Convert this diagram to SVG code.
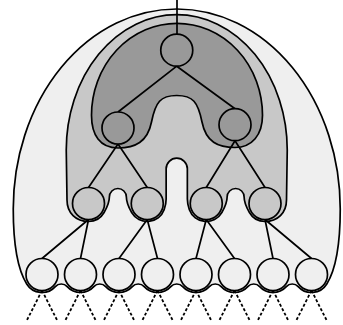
<svg xmlns="http://www.w3.org/2000/svg" width="343" height="325" viewBox="0 0 343 325">
<style>
.reg{stroke:#000;stroke-width:1.7;stroke-linejoin:round}
.r1{fill:#efefef}
.r2{fill:#c8c8c8}
.r3{fill:#999999}
.edge{stroke:#000;stroke-width:1.7;fill:none}
.dash{stroke:#000;stroke-width:1.8;fill:none;stroke-dasharray:3 2}
.node{stroke:#000;stroke-width:1.7}
</style>
<rect width="343" height="325" fill="#fff"/>
<g id="regions">
<path id="outer" class="reg r1" d="M13.25 209 A163.5 200 0 0 1 340.25 209 C340.25 250 334.7 271.25 326.8 284 A18 18 0 0 1 298.19 286.62 A8.01 8.01 0 0 0 286.31 286.62 A18 18 0 0 1 259.69 286.62 A8.01 8.01 0 0 0 247.81 286.62 A18 18 0 0 1 221.19 286.62 A8.01 8.01 0 0 0 209.31 286.62 A18 18 0 0 1 182.69 286.62 A8.01 8.01 0 0 0 170.81 286.62 A18 18 0 0 1 144.19 286.62 A8.01 8.01 0 0 0 132.31 286.62 A18 18 0 0 1 105.69 286.62 A8.01 8.01 0 0 0 93.81 286.62 A18 18 0 0 1 67.19 286.62 A8.01 8.01 0 0 0 55.31 286.62 A18 18 0 0 1 26.7 284 C18.8 271.25 13.25 250 13.25 209 Z"/>
<path id="middle" class="reg r2" d="M66.25 150 A110.5 135.3 0 0 1 287.25 150 L286.5 200 C286.5 213 277.5 221.5 265 221.5 A18 18 0 0 1 249.41 212.5 C246.5 207.5 244.125 203 244.125 197 A8.5 8.5 0 0 0 227.125 197 C227.125 203 224.75 207.5 221.84 212.5 A18 18 0 0 1 189.34 209.66 C188.2 206.5 187.35 203 187.35 199 L187.35 168.8 A10.6 10.6 0 0 0 166.15 168.8 L166.15 199 C166.15 203 165.3 206.5 164.16 209.66 A18 18 0 0 1 131.66 212.5 C128.75 207.5 126.375 203 126.375 197 A8.5 8.5 0 0 0 109.375 197 C109.375 203 107 207.5 104.09 212.5 A18 18 0 0 1 88.5 221.5 C76 221.5 67 213 67 200 Z"/>
<path id="inner" class="reg r3" d="M91.5 115.3 A85.5 92 0 0 1 262.5 115.3 C262.5 135 252 147.5 235 147.5 C218 147.5 206 142 202 122 C198 102 193 95.5 176.75 95.5 C160.5 95.5 155.5 102 151.5 122 C147.5 142 135 148 118 148 C100 148 91.5 135 91.5 115.3 Z"/>
</g>
<g id="connectors">
<line class="edge" x1="177" y1="0" x2="177" y2="34.2"/>
<path class="edge" d="M176.75 66.2 L118 112 M176.75 66.2 L235 108.7"/>
<path class="edge" d="M118 144 L88.5 187.5 M118 144 L147.25 187.5 M235 140.7 L206.25 187.5 M235 140.7 L265 187.5"/>
<path class="edge" d="M88.5 219.5 L42 258.5 M88.5 219.5 L80.5 258.5 M147.25 219.5 L119 258.5 M147.25 219.5 L157.5 258.5 M206.25 219.5 L196 258.5 M206.25 219.5 L234.5 258.5 M265 219.5 L273 258.5 M265 219.5 L311.5 258.5"/>
<path class="dash" d="M42 290.5 L27 320 M42 290.5 L57 320 M80.5 290.5 L65.5 320 M80.5 290.5 L95.5 320 M119 290.5 L104 320 M119 290.5 L134 320 M157.5 290.5 L142.5 320 M157.5 290.5 L172.5 320 M196 290.5 L181 320 M196 290.5 L211 320 M234.5 290.5 L219.5 320 M234.5 290.5 L249.5 320 M273 290.5 L258 320 M273 290.5 L288 320 M311.5 290.5 L296.5 320 M311.5 290.5 L326.5 320"/>
</g>
<g id="n-root"><circle class="node r3" cx="176.75" cy="50.2" r="16"/></g>
<g id="n-l"><circle class="node r3" cx="118" cy="128" r="16"/></g>
<g id="n-r"><circle class="node r3" cx="235" cy="124.7" r="16"/></g>
<g id="n-ll"><circle class="node r2" cx="88.5" cy="203.5" r="16"/></g>
<g id="n-lr"><circle class="node r2" cx="147.25" cy="203.5" r="16"/></g>
<g id="n-rl"><circle class="node r2" cx="206.25" cy="203.5" r="16"/></g>
<g id="n-rr"><circle class="node r2" cx="265" cy="203.5" r="16"/></g>
<g id="n-1"><circle class="node r1" cx="42" cy="274.5" r="16"/></g>
<g id="n-2"><circle class="node r1" cx="80.5" cy="274.5" r="16"/></g>
<g id="n-3"><circle class="node r1" cx="119" cy="274.5" r="16"/></g>
<g id="n-4"><circle class="node r1" cx="157.5" cy="274.5" r="16"/></g>
<g id="n-5"><circle class="node r1" cx="196" cy="274.5" r="16"/></g>
<g id="n-6"><circle class="node r1" cx="234.5" cy="274.5" r="16"/></g>
<g id="n-7"><circle class="node r1" cx="273" cy="274.5" r="16"/></g>
<g id="n-8"><circle class="node r1" cx="311.5" cy="274.5" r="16"/></g>
</svg>
